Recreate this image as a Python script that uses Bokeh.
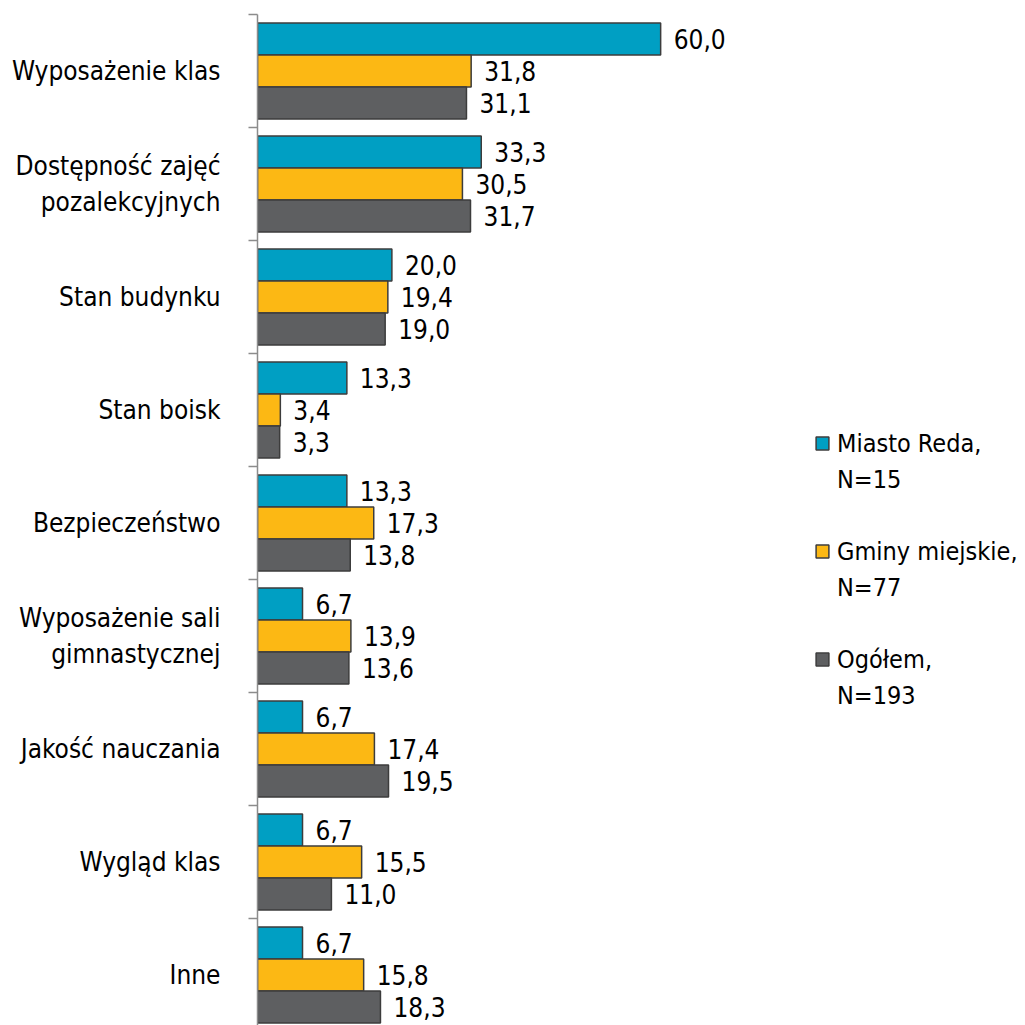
from bokeh.plotting import figure
from bokeh.models import ColumnDataSource, Range1d, FixedTicker, Legend, LegendItem
from bokeh.embed import file_html
from bokeh.resources import INLINE

categories = ["Wyposażenie klas", "Dostępność zajęć\npozalekcyjnych", "Stan budynku", "Stan boisk",
              "Bezpieczeństwo", "Wyposażenie sali\ngimnastycznej", "Jakość nauczania", "Wygląd klas", "Inne"]
series_lines = [["Miasto Reda,", "N=15"], ["Gminy miejskie,", "N=77"], ["Ogółem,", "N=193"]]
miasto_reda = [60.0, 33.3, 20.0, 13.3, 13.3, 6.7, 6.7, 6.7, 6.7]
gminy_miejskie = [31.8, 30.5, 19.4, 3.4, 17.3, 13.9, 17.4, 15.5, 15.8]
ogolem = [31.1, 31.7, 19.0, 3.3, 13.8, 13.6, 19.5, 11.0, 18.3]

colors = ["#009FC3", "#FCB814", "#5E5F61"]
FONT = "DejaVu Sans Condensed"
FS = "26px"
n = len(categories)
centers = [n - i - 0.5 for i in range(n)]
bounds = [float(n - i) for i in range(n + 1)]

p = figure(width=1025, height=1025, output_backend="svg", toolbar_location=None,
           x_range=Range1d(0, 114.3), y_range=Range1d(0.053, n),
           min_border_left=257, min_border_top=14, min_border_bottom=0, min_border_right=0)
p.outline_line_color = None
p.xgrid.visible = False
p.ygrid.visible = False
p.xaxis.visible = False
p.background_fill_color = None
p.border_fill_color = None

bar_h = 0.283
offsets = [bar_h, 0.0, -bar_h]
renderers = []
for vals, off, col in zip([miasto_reda, gminy_miejskie, ogolem], offsets, colors):
    src = ColumnDataSource(dict(
        y=[c + off for c in centers],
        v=vals,
        lab=[f"{v:.1f}".replace(".", ",") for v in vals],
    ))
    r = p.hbar(y="y", left=0, right="v", height=bar_h, source=src,
               fill_color=col, line_color="#3C3C3C", line_width=1.5)
    renderers.append(r)
    p.text(x="v", y="y", text="lab", source=src, x_offset=13, text_align="left",
           text_baseline="middle", text_font={"value": FONT},
           text_font_size=FS, text_color="#000000")

ax = p.yaxis[0]
ax.ticker = FixedTicker(ticks=centers, minor_ticks=bounds)
ax.major_label_overrides = {c: lab for c, lab in zip(centers, categories)}
ax.major_tick_in = 0
ax.major_tick_out = 0
ax.minor_tick_in = 0
ax.minor_tick_out = 9
ax.minor_tick_line_color = "#8C8C8C"
ax.minor_tick_line_width = 1.5
ax.axis_line_color = "#8C8C8C"
ax.axis_line_width = 1.5
ax.major_label_standoff = 28
ax.major_label_text_font = FONT
ax.major_label_text_font_size = FS
ax.major_label_text_color = "#000000"

# invisible renderer for second lines and spacer rows of the legend
blank = p.hbar(y=[], right=[], height=0.1, fill_alpha=0, line_alpha=0)
items = []
for k, (lines, r) in enumerate(zip(series_lines, renderers)):
    items.append(LegendItem(label=lines[0], renderers=[r]))
    items.append(LegendItem(label=lines[1], renderers=[blank]))
    if k < len(series_lines) - 1:
        items.append(LegendItem(label=" ", renderers=[blank]))

legend = Legend(items=items, location=(557, 312), label_text_font=FONT, label_text_font_size="25px",
                label_text_color="#000000",
                glyph_width=16, glyph_height=16, spacing=0, label_height=36, label_standoff=7,
                padding=0, margin=0, border_line_color=None, background_fill_alpha=0)
p.add_layout(legend)

open("out.html", "w").write(file_html(p, INLINE))
